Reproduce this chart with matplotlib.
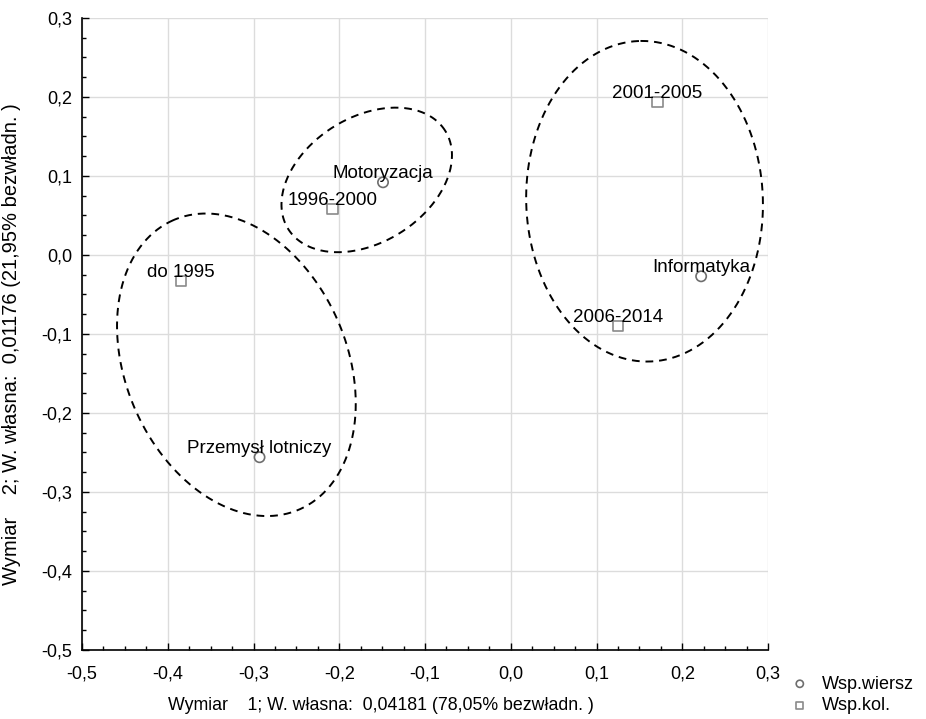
import numpy as np
import matplotlib
matplotlib.use('Agg')
import matplotlib.pyplot as plt
from matplotlib.ticker import MultipleLocator, FuncFormatter

plt.rcParams['font.family'] = ['Liberation Sans', 'DejaVu Sans']

# wiersze (branże)
row_names = ['Motoryzacja', 'Przemysł lotniczy', 'Informatyka']
row_x = [-0.149, -0.293, 0.222]
row_y = [0.092, -0.256, -0.027]

# kolumny (okresy)
col_names = ['do 1995', '1996-2000', '2001-2005', '2006-2014']
col_x = [-0.385, -0.208, 0.171, 0.125]
col_y = [-0.033, 0.058, 0.194, -0.090]

# grupy zaznaczone elipsami: środek, półosie, kąt
ell_cx = [-0.320, -0.168, 0.156]
ell_cy = [-0.139, 0.095, 0.068]
ell_a = [0.184, 0.108, 0.187]
ell_b = [0.129, 0.073, 0.138]
ell_ang = [113.5, 32.0, 92.0]

xlabel = 'Wymiar    1; W. własna:  0,04181 (78,05% bezwładn. )'
ylabel = 'Wymiar    2; W. własna:  0,01176 (21,95% bezwładn. )'

fig = plt.figure(figsize=(9.26, 7.19), dpi=100)
ax = fig.add_axes([0.0886, 0.096, 0.7408, 0.879])

ax.set_xlim(-0.5, 0.3)
ax.set_ylim(-0.5, 0.3)
ax.xaxis.set_major_locator(MultipleLocator(0.1))
ax.yaxis.set_major_locator(MultipleLocator(0.1))
ax.xaxis.set_minor_locator(MultipleLocator(0.025))
ax.yaxis.set_minor_locator(MultipleLocator(0.025))
fmt = FuncFormatter(lambda v, p: f'{v:.1f}'.replace('.', ',').replace('-0,0', '0,0'))
ax.xaxis.set_major_formatter(fmt)
ax.yaxis.set_major_formatter(fmt)
ax.tick_params(which='major', direction='in', length=5, width=1, labelsize=13)
ax.tick_params(axis='x', which='major', pad=11)
ax.tick_params(axis='y', which='major', pad=7)
ax.tick_params(which='minor', direction='in', length=3, width=1)
for s in ['top', 'right']:
    ax.spines[s].set_visible(False)
for s in ['left', 'bottom']:
    ax.spines[s].set_linewidth(1.2)

ax.grid(True, color='#dcdcdc', linewidth=1)
ax.set_axisbelow(True)
fig.canvas.draw()
ax.xaxis.get_gridlines()[-1].set_visible(False)
ax.yaxis.get_gridlines()[-1].set_visible(False)

# elipsy - skala y względem x w pikselach
k = ax.bbox.width / ax.bbox.height
t = np.linspace(0, 2 * np.pi, 300)
for cx, cy, a, b, ang in zip(ell_cx, ell_cy, ell_a, ell_b, ell_ang):
    phi = np.deg2rad(ang)
    ex = cx + a * np.cos(t) * np.cos(phi) - b * np.sin(t) * np.sin(phi)
    ey = cy + (a * np.cos(t) * np.sin(phi) + b * np.sin(t) * np.cos(phi)) * k
    ax.plot(ex, ey, color='black', linestyle=(0, (4, 3)), linewidth=1.4)

ax.scatter(row_x, row_y, marker='o', s=55, facecolors='none', edgecolors='#6e6e6e',
           linewidths=1.2, zorder=3, label='Wsp.wiersz')
ax.scatter(col_x, col_y, marker='s', s=55, facecolors='none', edgecolors='#8a8a8a',
           linewidths=1.2, zorder=3, label='Wsp.kol.')

for name, x, y in zip(row_names + col_names, row_x + col_x, row_y + col_y):
    ax.annotate(name, (x, y), xytext=(0, 3), textcoords='offset points',
                ha='center', va='baseline', fontsize=13.5)

ax.set_xlabel(xlabel, fontsize=12.8)
ax.xaxis.set_label_coords(0.436, -0.074)
ax.set_ylabel(ylabel, fontsize=14.5)
ax.yaxis.set_label_coords(-0.089, 0.484)

leg = ax.legend(loc='upper left', bbox_to_anchor=(1.02, -0.029), frameon=False,
                fontsize=13, handletextpad=0.6, markerscale=0.7, labelspacing=0.25,
                borderaxespad=0, handlelength=1.2)

fig.savefig('out.png', dpi=100)
